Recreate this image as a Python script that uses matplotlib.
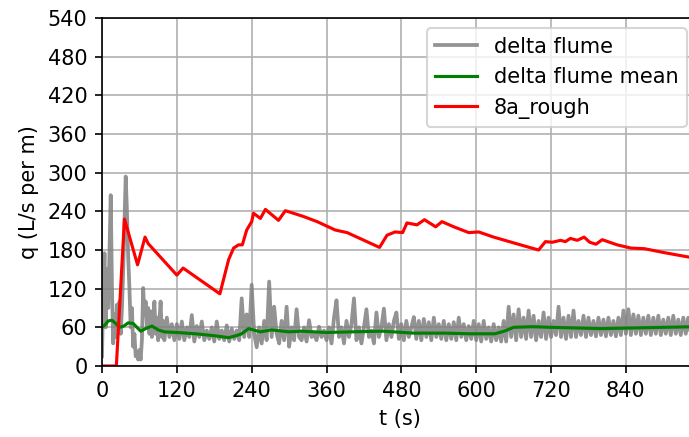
import numpy as np
import matplotlib
matplotlib.use("Agg")
import matplotlib.pyplot as plt

# delta flume signal: first 100 s sampled every 2 s, then every 4 s
gray_early_q = [
    15, 120, 175, 60, 150, 90, 180, 265, 120, 35,
    80, 45, 95, 55, 100, 50, 90, 150, 220, 294,
    240, 170, 120, 60, 90, 30, 50, 15, 20, 10,
    25, 10, 40, 121, 80, 100, 60, 90, 50, 85,
    45, 70, 100, 50, 75, 40, 70, 100, 45, 70,
]
gray_late_q = [
    40, 75, 45, 65, 40,
    65, 42, 69, 40, 60, 45, 79, 38, 62, 45,
    69, 40, 55, 42, 60, 38, 69, 42, 55, 40,
    63, 38, 58, 42, 55, 40, 105, 45, 80, 45,
    126, 50, 29, 60, 35, 70, 40, 131, 45, 92,
    50, 35, 70, 40, 92, 30, 60, 40, 88, 45,
    40, 60, 38, 71, 45, 50, 40, 61, 45, 55,
    40, 60, 35, 75, 102, 45, 60, 35, 70, 45,
    65, 105, 40, 60, 35, 60, 88, 45, 55, 35,
    83, 45, 60, 89, 40, 65, 45, 70, 83, 42,
    65, 40, 70, 45, 60, 76, 42, 70, 40, 73,
    45, 68, 40, 75, 45, 65, 42, 70, 40, 65,
    42, 68, 40, 75, 45, 65, 40, 62, 42, 70,
    40, 65, 38, 70, 42, 60, 38, 65, 40, 60,
    38, 70, 38, 92, 45, 80, 40, 88, 45, 75,
    42, 86, 45, 78, 40, 70, 45, 83, 42, 75,
    45, 70, 48, 92, 45, 75, 42, 78, 45, 86,
    45, 70, 48, 78, 45, 75, 48, 70, 46, 75,
    48, 72, 46, 75, 48, 70, 46, 75, 48, 86,
    50, 88, 48, 80, 50, 78, 48, 75, 50, 78,
    48, 75, 50, 78, 48, 72, 50, 75, 48, 78,
    50, 72, 48, 75, 50, 75, 48, 72, 50,
]

mean_t = [0, 5, 10, 16, 22, 28, 35, 42, 50, 56, 62, 70, 80, 90, 100, 120, 150,
          180, 203, 215, 224, 235, 254, 272, 300, 320, 360, 400, 450, 500, 550,
          590, 630, 645, 660, 690, 720, 760, 800, 850, 900, 954]
mean_q = [60, 64, 70, 71, 66, 60, 62, 67, 66, 60, 54, 58, 62, 56, 53, 52, 50,
          47, 44, 47, 50, 58, 53, 56, 53, 54, 52, 53, 54, 51, 51,
          50, 50, 54, 60, 61, 60, 59, 58, 59, 60, 61]

red_t = [0, 23, 36, 57, 69, 74, 120, 130, 189, 203, 211, 219, 225, 232, 240,
         243, 254, 262, 283, 294, 307, 323, 345, 374, 393, 445, 457, 470, 482,
         489, 505, 517, 535, 545, 564, 588, 604, 628, 671, 700, 711, 722, 735,
         743, 751, 762, 773, 782, 792, 802, 826, 848, 870, 901, 941, 954]
red_q = [0, 0, 228, 157, 200, 190, 141, 152, 112, 165, 183, 188, 188, 211, 224,
         237, 229, 243, 226, 241, 237, 232, 224, 211, 207, 184, 203, 208, 207,
         222, 219, 227, 216, 224, 216, 207, 208, 200, 188, 180, 193, 192, 195,
         193, 198, 195, 200, 192, 189, 196, 188, 183, 182, 176, 169, 167]

x_ticks = [0, 120, 240, 360, 480, 600, 720, 840]
y_ticks = [0, 60, 120, 180, 240, 300, 360, 420, 480, 540]

DPI = 150
fig = plt.figure(figsize=(689 / DPI, 437 / DPI), dpi=DPI)
ax = fig.add_axes([102 / 689, 1 - 366 / 437, (697 - 102) / 689, (366 - 18) / 437])

gray_t = np.concatenate([np.arange(len(gray_early_q)) * 2,
                         100 + np.arange(len(gray_late_q)) * 4])
gray_q = np.array(gray_early_q + gray_late_q)
ax.plot(gray_t, gray_q, color="gray", alpha=0.85, lw=1.8, label="delta flume")
ax.plot(mean_t, mean_q, color="g", lw=1.5, label="delta flume mean")
ax.plot(red_t, red_q, color="r", lw=1.5, label="8a_rough")

ax.set_xlim(0, 954)
ax.set_ylim(0, 540)
ax.set_xticks(x_ticks)
ax.set_yticks(y_ticks)
ax.grid(True)
ax.set_xlabel("t (s)")
ax.set_ylabel("q (L/s per m)")
ax.legend(loc="upper right")

fig.savefig("out.png", dpi=DPI)
